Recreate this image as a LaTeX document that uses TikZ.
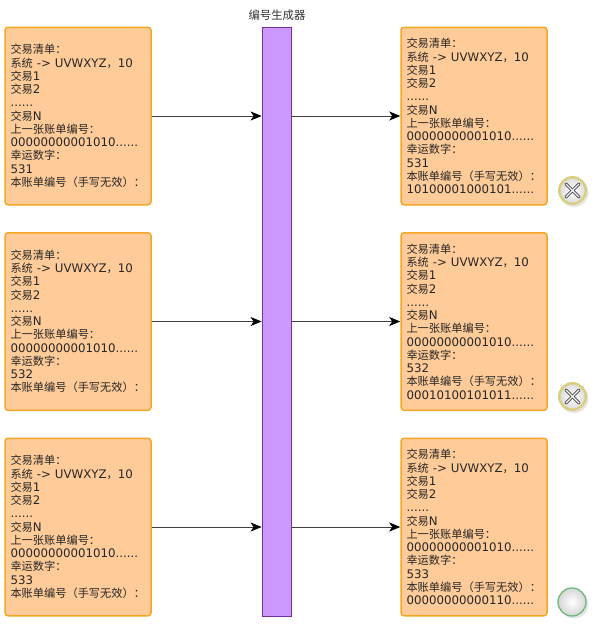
\documentclass[tikz,border=0pt]{standalone}
\usepackage{fontspec}
\setmainfont{DejaVu Sans}
\newfontfamily\cjk[Scale=0.95]{Noto Sans CJK SC}
\usetikzlibrary{arrows.meta}
\setlength{\lineskiplimit}{-20pt}
\setlength{\normallineskiplimit}{-20pt}
\definecolor{boxfill}{HTML}{FFCC99}
\definecolor{boxline}{HTML}{F5A623}
\definecolor{genfill}{HTML}{CC99FF}
\definecolor{genline}{HTML}{7B2D9B}
\definecolor{txt}{HTML}{333333}
\definecolor{ringgold}{HTML}{D8CE7C}
\definecolor{ringgreen}{HTML}{6DB87A}
\newcommand{\cj}[1]{{\cjk #1}}
\newcommand{\common}[1]{\cj{交易清单：}\\\cj{系统} -> UVWXYZ\cj{，}10\\\cj{交易}1\\\cj{交易}2\\......\\\cj{交易}N\\\cj{上一张账单编号：}\\00000000001010......\\\cj{幸运数字：}\\#1\\\cj{本账单编号（手写无效）：}}
\tikzset{
  txbox/.style={draw=boxline,fill=boxfill,line width=1.5pt,rounded corners=3pt,minimum width=146pt,minimum height=177.5pt,inner sep=0pt,text width=135pt,align=left,font=\fontsize{11.8pt}{13.25pt}\selectfont,text=black!85},
  genbox/.style={draw=genline,fill=genfill,line width=0.8pt,minimum width=29pt,minimum height=589pt,inner sep=0pt},
  genlabel/.style={font=\fontsize{12pt}{13pt}\selectfont,text=txt,inner sep=0pt},
  flow/.style={draw=black!75,line width=0.8pt,-{Stealth[length=11pt,width=9pt,inset=3pt,black]}},
  shadowdisc/.style={circle,fill=black,opacity=0.10,minimum size=29pt,inner sep=0pt},
  faildisc/.style={circle,draw=ringgold,line width=2.4pt,inner color=white,outer color=black!14,minimum size=26.5pt,inner sep=0pt},
  okdisc/.style={circle,draw=ringgreen,line width=1.3pt,inner color=white,outer color=black!16,minimum size=28pt,inner sep=0pt},
  crossout/.style={line cap=round,line width=3pt,draw=black!75},
  crossin/.style={line cap=round,line width=1.3pt,draw=white}
}
\begin{document}
\begin{tikzpicture}[x=1pt,y=-1pt]
\useasboundingbox (0,0) rectangle (598,624);
\node[genbox] (gen) at (276.5,321.5) {};
\node[genlabel] (genl) at (277,15) {\cj{编号生成器}};
\node[txbox] (a1) at (78,116) {\common{531}};
\node[txbox] (a2) at (78,321.5) {\common{532}};
\node[txbox] (a3) at (78,527) {\common{533}};
\node[txbox] (b1) at (474,116) {\common{531}\\10100001000101......};
\node[txbox] (b2) at (474,321.5) {\common{532}\\00010100101011......};
\node[txbox] (b3) at (474,527) {\common{533}\\00000000000110......};
\foreach \i in {1,2,3}{
  \draw[flow] (a\i.east) -- (a\i.east -| gen.west);
  \draw[flow] (gen.east |- b\i.west) -- (b\i.west);
}
\foreach \n/\y in {1/190.5,2/396.5}{
  \node[shadowdisc] (s\n) at (574,\y+2) {};
  \node[faildisc] (f\n) at (572.5,\y) {};
  \draw[crossout] ([shift={(-6.5,-6.5)}]f\n.center) -- ([shift={(6.5,6.5)}]f\n.center);
  \draw[crossout] ([shift={(-6.5,6.5)}]f\n.center) -- ([shift={(6.5,-6.5)}]f\n.center);
  \draw[crossin] ([shift={(-6.5,-6.5)}]f\n.center) -- ([shift={(6.5,6.5)}]f\n.center);
  \draw[crossin] ([shift={(-6.5,6.5)}]f\n.center) -- ([shift={(6.5,-6.5)}]f\n.center);
}
\node[shadowdisc] (s3) at (574,604) {};
\node[okdisc] (ok) at (572,602) {};
\end{tikzpicture}
\end{document}
